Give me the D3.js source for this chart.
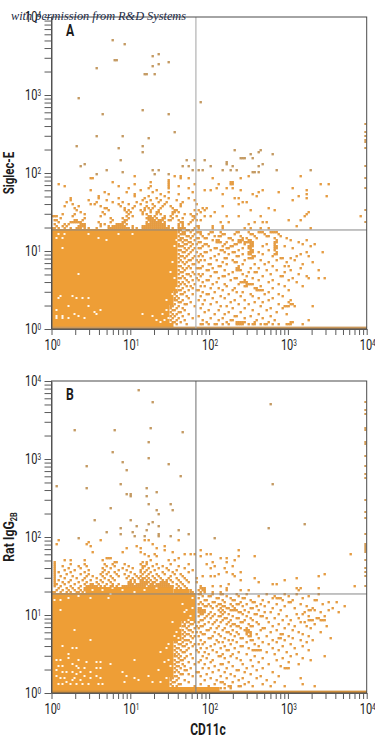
<!DOCTYPE html>
<html>
<head>
<meta charset="utf-8">
<script src="https://cdn.jsdelivr.net/npm/d3@7"></script>
<style>
  body { margin: 0; background: #fff; }
  text { font-family: Roboto, sans-serif; fill: #1c1c1c; }
</style>
</head>
<body>
<svg id="chart" width="375" height="736"></svg>
<script>
// events as [channel row, [channel columns]]
const decades = [1, 10, 100, 1000, 10000];
const minorSteps = [1, 2, 3, 4, 5, 6, 7, 8, 9];
const gateX = 68;
const gateY = 18.6;

// spans of solid cells: [rowFrom, rowTo, colFrom, colTo]
const solidA = [[1, 2, 0, 60], [3, 11, 0, 58], [12, 18, 0, 60], [19, 49, 0, 62]];
const solidB = [[1, 2, 0, 83], [3, 7, 0, 58], [8, 25, 0, 60], [26, 35, 0, 64], [36, 49, 0, 71], [50, 52, 17, 60], [50, 51, 61, 68]];

const holesA = [[3,47],[6,47],[18,47],[33,47],[40,47],[2,45],[5,45],[23,45],[27,44],[5,40],[13,27],[4,16],[3,15],[10,16],[12,15],[15,15],[18,15],[8,11],[18,11],[2,9],[21,8],[24,9],[22,7],[2,6],[5,6],[8,5],[11,7],[13,6],[16,5],[45,7],[2,5],[5,5],[56,4],[50,6],[54,3],[57,9],[58,5],[57,14],[61,25],[60,33],[61,41],[62,44],[59,28],[62,20],[60,17],[55,7],[52,4]];
const holesB = [[2,16],[4,16],[5,13],[2,11],[5,10],[8,19],[10,22],[12,22],[8,17],[12,13],[13,12],[10,10],[14,10],[11,7],[14,6],[10,6],[6,7],[5,4],[9,4],[12,4],[15,4],[19,26],[19,47],[11,31],[4,41],[5,23],[19,10],[19,7],[22,15],[24,15],[22,12],[24,12],[22,8],[24,7],[18,4],[23,4],[25,4],[29,14],[29,49],[28,47],[13,48],[8,47],[4,46],[1,46],[41,16],[35,10],[37,8],[36,5],[41,7],[43,6],[48,8],[57,7],[2,8],[4,7],[7,10],[3,13],[12,9],[16,8],[7,5],[3,4],[13,16],[16,12],[17,15],[10,14],[54,20],[57,22],[56,15],[53,11],[54,5],[50,5],[58,16],[20,51],[30,52],[41,50],[52,52],[46,51],[35,51],[25,51],[66,40],[69,38],[65,44],[70,47],[68,36],[62,30],[63,27],[60,35],[64,32],[59,13],[67,41],[70,42],[61,28],[58,24]];

const fringeA = [
  [49,[63,64,67,68,70]],[48,[63,65,66,69,72]],[47,[64,65,66,71]],[46,[63,67,68,70]],
  [45,[64,65,69,72]],[44,[63,64,66,67,71]],[43,[65,68,69]],[42,[63,66,67,70,72]],
  [41,[63,64,65,69]],[40,[66,68,71]],[39,[63,64,67,70]],[38,[65,66,69,72]],
  [37,[63,68]],[36,[64,65,67,71]],[35,[63,66,70]],[34,[64,68,69,72]],
  [33,[63,65,67]],[32,[66,70,71]],[31,[63,64,68]],[30,[65,67,69,72]],
  [29,[63,66]],[28,[64,65,70]],[27,[63,67,68,71]],[26,[65,69]],
  [25,[63,64,66,72]],[24,[67,70]],[23,[63,65,68]],[22,[64,66,71]],
  [21,[63,67,69]],[20,[65,70]],[19,[63,64,68,72]],[18,[61,62,66]],
  [17,[61,64,65,70]],[16,[62,67]],[15,[61,63,68]],[14,[61,62,65]],
  [13,[63,64,69]],[12,[61,66,67]],[11,[59,60,63,71]],[10,[59,62,65]],
  [9,[60,61,66]],[8,[59,63,64]],[7,[60,62,68]],[6,[59,61,65]],
  [5,[60,63,70]],[4,[59,62,66]],[3,[60,61,64]],[2,[62,67]]
];

const lowerRightA = [
  [48,[73,74,79,80,84,92,93,98,103,104,105,109,110,111,112]],[47,[74,78,85,86,91,99,100,106,113]],
  [46,[75,81,83,84,94,101,107,108,114]],[45,[73,76,77,88,89,95,97,102,111,117]],
  [44,[80,82,83,90,93,94,95,98,99,112,119,127]],[43,[73,74,82,83,84,87,93,94,96,97,98,99,100,111,112,123]],
  [42,[76,77,86,91,92,96,99,100,107,111,125,131]],[41,[75,78,85,89,90,98,99,100,105,111,112,116,129]],
  [40,[73,74,81,82,87,88,95,98,99,111,112,120]],[39,[79,84,85,93,99,100,108,111]],
  [38,[76,77,86,90,91,98,99,100,103,112,127,135]],[37,[74,83,88,95,98,99,105,111,112,124]],
  [36,[73,75,81,92,93,100,101,110,122,128]],[35,[79,86,87,98,99,100,114,115,119]],
  [34,[74,76,82,90,96,104,112,121]],[33,[73,85,91,92,108,117,130]],
  [32,[78,79,87,95,101,106,125]],[31,[75,83,84,93,110,116,118]],
  [30,[73,74,80,92,93,99,103,124]],[29,[77,78,86,92,93,94,107,112,119,133]],
  [28,[81,82,90,98,101,102,116]],[27,[73,75,88,95,109,123]],
  [26,[74,79,85,86,97,105,114,115,127]],[25,[83,91,92,100,120,128,133,136]],
  [24,[73,77,78,89,96,103,110,118]],[23,[75,82,94,95,96,97,108,122]],
  [22,[80,86,93,97,98,99,100,113]],[21,[74,76,87,96,97,104,116,125]],
  [20,[79,83,91,101,102,110]],[19,[73,85,90,102,103,104,105,118]],
  [18,[75,81,92,95,108]],[17,[77,78,88,99,106,113]],
  [16,[74,84,94,100,115]],[15,[80,86,103,110]],
  [14,[73,76,91,96,108,119]],[13,[82,89,101,105,118]],
  [12,[75,79,93,98,113,119,120]],[11,[84,87,104,116,117,118,121,130]],
  [10,[74,90,96,109,115]],[9,[78,83,100,107]],
  [8,[76,88,94,112]],[7,[81,86,103,117]],
  [6,[73,91,92,99,109]],[5,[79,85,96,105]],
  [4,[75,83,89,90,102,111,128]],[3,[77,87,92,93,94,95,96,101,108,119,120]],
  [2,[74,75,78,81,82,85,88,92,93,94,95,98,100,101,104,106,107,110,113,117,118,119,125]]
];

const upperA = [
  [50,[0,1,3,6,9,12,13,14,16,18,22,28,29,30,31,32,33,34,35,36,37,38,40,42,45,46,47,48,49,50,51,52,53,54,55,56,57,58,60,63,64,65,66,71,73,80,85,96,99,104,108,129]],
  [51,[2,5,7,13,14,15,16,24,28,30,31,32,33,34,35,36,40,45,46,47,48,49,50,51,52,53,54,55,56,58,63,65,72,73,80,85,122]],
  [52,[1,6,8,14,15,16,24,26,32,33,34,35,37,47,48,49,50,51,52,53,54,55,56,63,65,68,98]],
  [53,[3,9,10,11,12,13,14,23,29,35,36,47,49,50,51,52,53,54,56,64,65,69,84,88,101,105,107]],
  [54,[1,2,11,12,15,30,36,37,48,49,50,51,53,54,55,58,59,63,70,72,74,118,124]],
  [55,[4,16,29,35,38,47,48,49,50,52,55,56,60,65,71]],
  [56,[0,1,2,10,24,37,40,48,49,51,56,59,62,70,71,76,79,87,93,104,126,154]],
  [57,[5,11,16,26,38,45,47,52,54,60,66,69,72,127]],
  [58,[14,25,37,39,45,49,52,53,60,61,63,74,81,128]],
  [59,[12,28,36,38,44,46,49,53,61,62,71,73,76,99,111]],
  [60,[11,26,27,36,40,46,48,50,54,60,75,77,108]],
  [61,[6,13,24,34,41,47,51,55,59,64,85]],
  [62,[10,19,21,33,38,44,50,56,64,72,93]],
  [63,[7,22,30,35,42,47,53,57,65,95,97]],
  [64,[9,18,27,45,49,54,62,71,120]],
  [65,[9,23,33,46,52,58,68,91,93,127]],
  [66,[23,41,48,56,102,123,137]],
  [67,[28,41,54,63,85,100,127]],
  [68,[26,37,50,58,70,103,113]],
  [69,[19,44,52,76,79,94,105,127]],
  [70,[38,48,58,68,82,87,90,120]],
  [71,[6,33,49,58,63]],
  [72,[3,41,58,71,83,89,90,134,138]],
  [73,[30,49,58,89,90]],
  [74,[58]],
  [75,[19,20,64,68,80,94]],
  [76,[41,61,64,98,124]],
  [77,[22,51,58]],
  [78,[35,100,101,103]],
  [79,[27,50,53,70,73,75,85,89,92,112,129]],
  [81,[14,65,68,79,90,103]],
  [82,[16,87,105]],
  [83,[87]],
  [84,[34,67,71,76]],
  [85,[94,95,96,100]],
  [87,[99,110]],
  [88,[45,103]],
  [89,[91,104]],
  [90,[33]],
  [91,[12,45]],
  [95,[48]],
  [96,[22,35]],
  [98,[61]],
  [107,[25,58]],
  [109,[45]],
  [113,[74]],
  [115,[13]],
  [127,[46,47,51]],
  [130,[22]],
  [131,[50]],
  [132,[53]],
  [133,[58]],
  [134,[31,32]],
  [136,[50]],
  [137,[53]],
  [142,[36]],
  [144,[30]]
];

const edgeA = [102, 98, 96, 94, 93, 90, 81, 75, 70, 59, 53];

const fringeB = [
  [35,[65,67,68,71]],[34,[66,69,70]],[33,[65,66,68,72]],[32,[67,71]],
  [31,[65,68,69]],[30,[66,70,72]],[29,[65,67,68]],[28,[66,69,71]],
  [27,[65,70]],[26,[66,67,68]],[25,[61,62,65,69]],[24,[63,64,67,71]],
  [23,[61,65,66,70]],[22,[62,63,68]],[21,[61,64,67,72]],[20,[62,65,66]],
  [19,[61,63,69]],[18,[61,62,64,67]],[17,[63,66,70]],[16,[61,64,65]],
  [15,[62,63,68]],[14,[61,65,71]],[13,[62,63,66]],[12,[61,64,69]],
  [11,[62,66,67]],[10,[61,63,72]],[9,[64,65,68]],[8,[61,62,70]],
  [7,[59,60,63]],[6,[59,62,66]],[5,[60,61,68]],[4,[59,63,64]],
  [3,[60,62,71]],[2,[84,86,89]]
];

const lowerRightB = [
  [49,[73,74,80,84,85,92,97,107,116,122,133]],[48,[75,78,79,87,93,103,111,118,128]],
  [47,[73,82,83,89,95,96,110,112,113,114,125]],[46,[76,77,85,90,91,99,105,115,120,131,132]],
  [45,[74,80,81,86,94,100,101,108,118,119,138,142]],[44,[73,75,78,83,84,89,92,93,97,104,112,124,135]],
  [43,[76,77,79,82,85,86,90,95,102,106,116,127,146]],[42,[73,74,80,84,87,88,91,99,100,110,121,130,140]],
  [41,[73,74,75,76,83,85,89,90,91,92,96,103,114,128,129,131,138]],[40,[73,74,75,76,79,84,86,93,94,98,106,109,126,134,143]],
  [39,[74,75,78,81,85,88,95,101,102,113,122,125]],[38,[73,77,80,83,84,90,97,104,105,117,128,136]],
  [37,[76,79,86,87,92,93,99,107,111,123,132,133]],[36,[74,75,82,85,89,96,100,115,119,128,129,130,134,135,136]],
  [35,[73,78,81,84,88,94,95,102,108,124,126]],[34,[76,80,87,90,91,98,103,113,118,131]],
  [33,[74,75,83,89,92,93,99,100,110,121,127,137]],[32,[73,79,82,86,94,97,105,106,116,129]],
  [31,[77,78,85,90,96,97,98,104,112,120]],[30,[74,81,87,88,92,97,98,99,109,123,134]],
  [29,[75,76,83,89,93,97,99,102,114,115,125]],[28,[73,80,84,91,98,99,107,118,128]],
  [27,[78,79,86,94,95,103,113,114,120,139]],[26,[74,82,88,90,99,100,110,116,124,130]],
  [25,[76,83,85,92,97,105,112,127]],[24,[73,75,81,89,101,108,119]],
  [23,[79,86,94,95,103,115,125]],[22,[74,77,84,91,98,110,121]],
  [21,[80,87,88,100,101,102,103,104,113,128]],[20,[73,76,82,93,107,117]],
  [19,[78,85,90,97,111,122]],[18,[75,83,84,89,101,119,136]],
  [17,[77,86,92,105,115,125]],[16,[74,80,94,99,112,129]],
  [15,[73,79,88,103,118]],[14,[76,84,85,95,108,123]],
  [13,[81,90,100,114]],[12,[75,78,87,97,105,116,117,118]],
  [11,[83,92,93,102]],[10,[73,80,86,96,110]],
  [9,[77,89,99]],[8,[74,84,91,104,113]],
  [7,[79,87,95,102,124]],[6,[76,82,93,107]],
  [5,[84,85,90,98,111]],[4,[74,81,86,96,105,125]],
  [3,[78,88,89,93,94,100,109,116,131]]
];

const upperB = [
  [50,[0,1,4,7,9,12,13,15,69,70,74,76,80,84]],
  [51,[2,5,8,11,14,16,69,73,75,76,87,94,98,123]],
  [52,[3,7,10,13,16,62,64,67,74,75,76,87,122,124,133]],
  [53,[1,4,9,14,17,18,19,20,21,22,24,26,29,30,32,35,36,37,38,39,40,41,42,43,44,45,46,48,49,50,51,52,53,54,55,56,57,58,59,60,63,66,74,80,84,151]],
  [54,[1,2,6,11,16,19,20,23,27,30,33,38,39,40,42,43,44,45,46,47,49,50,52,53,54,55,56,57,58,62,65,88,110,112]],
  [55,[1,5,8,13,17,22,25,29,38,39,41,44,45,46,47,48,50,51,54,55,56,57,60,64,68,72,103]],
  [56,[1,3,9,15,19,24,28,31,39,41,44,45,47,49,52,55,57,59,63,67,94,116]],
  [57,[1,6,12,16,22,26,30,37,40,43,45,46,48,51,54,58,62,66,72,101,122]],
  [58,[1,4,10,17,20,25,29,33,38,42,44,47,50,53,59,65,75,79,81,91,133]],
  [59,[1,7,14,18,24,27,32,36,41,45,48,52,56,61,64,83,90,136]],
  [60,[1,3,9,16,25,28,31,39,44,46,49,55,60,68,87,94]],
  [61,[1,6,11,18,26,33,37,44,47,51,58,62,70]],
  [62,[1,8,14,25,29,35,40,45,48,53,57,66,79,86]],
  [63,[1,5,13,17,27,31,38,45,46,50,55,63,81,90]],
  [64,[1,9,16,26,30,36,44,47,52,59,68,77]],
  [65,[1,31,32,45,47,80,87]],
  [66,[6,9,16,25,49,58,61,91]],
  [67,[27,28,29,63,84,87]],
  [68,[48,52,74,93,101]],
  [69,[46,51,66,69,71,77,79,149]],
  [70,[20,35,44,60]],
  [71,[56,74,93]],
  [72,[37,44,52]],
  [73,[19,42,56]],
  [74,[2,17,50]],
  [75,[18]],
  [76,[3,24,46,48,63]],
  [77,[13,81]],
  [78,[41,46,53,59]],
  [79,[34,53,68]],
  [80,[27,40]],
  [81,[47,63]],
  [82,[34,108]],
  [83,[42,53]],
  [84,[48,126]],
  [85,[50]],
  [86,[21,39]],
  [89,[53]],
  [91,[52,60]],
  [92,[29]],
  [94,[48,59]],
  [98,[39,47]],
  [99,[37,39]],
  [100,[52]],
  [102,[17,47]],
  [103,[2]],
  [104,[34,110]],
  [108,[64]],
  [111,[37]],
  [113,[17]],
  [114,[58]],
  [115,[35]],
  [117,[48]],
  [120,[30]],
  [125,[48]],
  [130,[65]],
  [131,[11,31]],
  [132,[49]],
  [144,[109]],
  [145,[50]],
  [151,[43]]
];

const edgeB = [145, 141, 139, 132, 131, 125, 124, 118, 113, 109, 107, 96, 90, 87, 79, 74, 73, 72, 71, 70, 66, 62, 60, 58, 53];

const panels = [
  { name: "A", top: 17, bottom: 329, solid: solidA, holes: holesA, rows: [fringeA, lowerRightA, upperA], edge: edgeA, gateColor: "#b2b2b2" },
  { name: "B", top: 381, bottom: 693, solid: solidB, holes: holesB, rows: [fringeB, lowerRightB, upperB], edge: edgeB, gateColor: "#868686" }
];

const left = 51.5, right = 366.7;
const cell = 2;
const eventSize = 2.4;
const orange = "#ee9e36";
const allTicks = decades.slice(0, -1).flatMap(d => minorSteps.map(m => d * m)).concat(10000);

const svg = d3.select("#chart");

const colScale = d3.scaleLinear().domain([0, 157.6]).range([left, right]);
const xLog = d3.scaleLog().domain([1, 10000]).range([left, right]);

// tick labels are condensed, there is no narrow font installed
const drawPower = (g, d, x, y, anchor) => {
  const t = g.append("text")
    .attr("transform", `translate(${x},${y}) scale(0.76,1)`)
    .attr("text-anchor", anchor).attr("font-size", 14.5);
  t.append("tspan").text("10");
  t.append("tspan").attr("font-size", 8.5).attr("dy", -4.5).text(Math.round(Math.log10(d)));
};

panels.forEach(p => {
  const g = svg.append("g");
  const rowScale = d3.scaleLinear().domain([0, 156]).range([p.bottom, p.top]);
  const yLog = d3.scaleLog().domain([1, 10000]).range([p.bottom, p.top]);

  const spans = p.solid.map(s => ({ x: colScale(s[2]), w: colScale(s[3] + 1) - colScale(s[2]), y: rowScale(s[1] + 1), h: rowScale(s[0]) - rowScale(s[1] + 1) }));
  g.selectAll("rect.solid").data(spans).join("rect")
    .attr("class", "solid")
    .attr("x", d => d.x).attr("y", d => d.y)
    .attr("width", d => d.w).attr("height", d => d.h)
    .attr("fill", orange);

  g.selectAll("rect.hole").data(p.holes).join("rect")
    .attr("class", "hole")
    .attr("x", d => colScale(d[0])).attr("y", d => rowScale(d[1] + 1))
    .attr("width", cell).attr("height", cell)
    .attr("fill", "#fff8ec");

  // flatten [row, cols] into one list of events
  const events = p.rows.flat().flatMap(([row, cols]) => cols.map(col => [col, row]));
  g.selectAll("rect.event").data(events).join("rect")
    .attr("class", "event")
    .attr("x", d => colScale(d[0])).attr("y", d => rowScale(d[1] + 1))
    .attr("width", eventSize).attr("height", eventSize)
    .attr("fill", d => d[1] > 76 ? "#c49a62" : "#e59c42");

  g.selectAll("rect.edge").data(p.edge).join("rect")
    .attr("class", "edge")
    .attr("x", colScale(156.4)).attr("y", d => rowScale(d + 1))
    .attr("width", cell).attr("height", cell)
    .attr("fill", "#d09a55");

  // pile-up on the bottom channel
  g.append("rect")
    .attr("x", left).attr("y", rowScale(1.2))
    .attr("width", right - left).attr("height", rowScale(0) - rowScale(1.2))
    .attr("fill", p.name === "A" ? "#c9985c" : "#d08f3c");

  g.append("line").attr("x1", xLog(gateX)).attr("x2", xLog(gateX)).attr("y1", p.top).attr("y2", p.bottom)
    .attr("stroke", p.gateColor).attr("stroke-width", 1.2);
  g.append("line").attr("x1", left).attr("x2", right).attr("y1", yLog(gateY)).attr("y2", yLog(gateY))
    .attr("stroke", "#868686").attr("stroke-width", 1);

  g.append("rect").attr("x", left).attr("y", p.top).attr("width", right - left).attr("height", p.bottom - p.top)
    .attr("fill", "none").attr("stroke", "#4a4a4a").attr("stroke-width", 1);

  const yAxis = g.append("g").attr("transform", `translate(${left},0)`)
    .call(d3.axisLeft(yLog).tickValues(allTicks).tickSize(7).tickSizeOuter(0).tickFormat(""));
  const xAxis = g.append("g").attr("transform", `translate(0,${p.bottom})`)
    .call(d3.axisBottom(xLog).tickValues(allTicks).tickSize(6).tickSizeOuter(0).tickFormat(""));
  [yAxis, xAxis].forEach(a => a.selectAll("path, line").attr("stroke", "#5a5a5a"));

  decades.forEach(d => {
    drawPower(g, d, 41, yLog(d) + 5, "end");
    drawPower(g, d, xLog(d) + 1, p.bottom + 21, "middle");
  });

  g.append("text")
    .attr("transform", `translate(66,${p.top + 19}) scale(0.76,1)`)
    .attr("font-size", 16).attr("font-weight", 700)
    .text(p.name);
});

svg.append("text")
  .attr("transform", "translate(14,173) rotate(-90) scale(0.76,1)")
  .attr("text-anchor", "middle").attr("font-size", 15).attr("font-weight", 700)
  .text("Siglec-E");

const ratLabel = svg.append("text")
  .attr("transform", "translate(14,537) rotate(-90) scale(0.82,1)")
  .attr("text-anchor", "middle").attr("font-size", 15).attr("font-weight", 700);
ratLabel.append("tspan").text("Rat IgG");
ratLabel.append("tspan").attr("font-size", 9).attr("dy", 3).text("2B");

svg.append("text")
  .attr("transform", "translate(208,735) scale(0.75,1)")
  .attr("text-anchor", "middle").attr("font-size", 16).attr("font-weight", 700)
  .text("CD11c");

svg.append("text")
  .attr("x", 11).attr("y", 20)
  .attr("textLength", 175).attr("lengthAdjust", "spacingAndGlyphs")
  .style("font-family", '"Liberation Serif", serif')
  .style("font-style", "italic").style("fill", "#1b2a45")
  .attr("font-size", 12.5)
  .text("with permission from R&D Systems");
</script>
</body>
</html>
